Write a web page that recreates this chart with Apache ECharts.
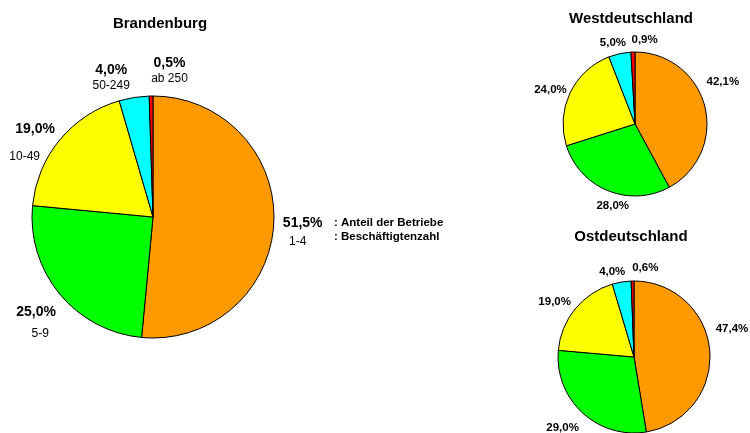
<!DOCTYPE html>
<html><head><meta charset="utf-8">
<script src="https://cdn.jsdelivr.net/npm/echarts@6/dist/echarts.min.js"></script>
<style>html,body{margin:0;padding:0;background:#fff}#c{width:750px;height:433px}</style>
</head><body><div id="c"></div>
<script>
const categories = ['1-4', '5-9', '10-49', '50-249', 'ab 250'];
const brandenburg = [51.5, 25.0, 19.0, 4.0, 0.5];
const west = [42.1, 28.0, 24.0, 5.0, 0.9];
const ost = [47.4, 29.0, 19.0, 4.0, 0.6];
const colors = ['#FF9900', '#00FF00', '#FFFF00', '#00FFFF', '#FF0000'];
const titles = ['Brandenburg', 'Westdeutschland', 'Ostdeutschland'];
const legendText = [': Anteil der Betriebe', ': Beschäftigtenzahl'];

// label nudges (dx, dy) relative to the library's outside label position
const nudge = [
  [[-10, 9], [12, 20], [11, 12], [3, -6], [42, -11]],
  [[-11, -23], [29, 8], [9, 0], [13, -3], [30, -4]],
  [[-7, -21], [7, 9], [7, -2], [10, -2], [31, -5]]
];
const lineGap = [18, 22, 27, 16, 16];
// horizontal shift of the second label line within a block: [padB, padN-left, padN-right]
const pads = [[0, 0, 10], [0, 8, 0], [6, 0, 0], [0, 0, 0], [0, 0, 0]];

const FONT = 'Liberation Sans, Arial, sans-serif';
const fmt = v => v.toFixed(1).replace('.', ',') + '%';

function mkBig(vals) {
  return vals.map((v, i) => ({
    value: v, name: categories[i], itemStyle: { color: colors[i] },
    label: {
      rich: {
        b: { fontFamily: FONT, fontSize: 14, fontWeight: 'bold', color: '#000', align: 'center', lineHeight: lineGap[i], padding: [0, 0, 0, pads[i][0]] },
        n: { fontFamily: FONT, fontSize: 12, color: '#000', align: i === 2 ? 'left' : 'center', lineHeight: lineGap[i], padding: [0, pads[i][2], 0, pads[i][1]] }
      }
    }
  }));
}
const mk = vals => vals.map((v, i) => ({ value: v, name: categories[i], itemStyle: { color: colors[i] } }));

const chart = echarts.init(document.getElementById('c'), null, { renderer: 'canvas' });
const base = {
  type: 'pie', clockwise: true, startAngle: 90, animation: false,
  itemStyle: { borderColor: '#000', borderWidth: 1 },
  emphasis: { disabled: true },
  avoidLabelOverlap: false,
  minShowLabelAngle: 0
};
const layoutFn = si => p => ({
  dx: nudge[si][p.dataIndex][0], dy: nudge[si][p.dataIndex][1], hideOverlap: false
});
const titleStyle = { fontFamily: FONT, fontSize: 15, fontWeight: 'bold', color: '#000' };
chart.setOption({
  backgroundColor: '#fff',
  textStyle: { fontFamily: FONT },
  title: [
    { text: titles[0], left: 155, top: 11, textAlign: 'center', textStyle: titleStyle },
    { text: titles[1], left: 626, top: 6, textAlign: 'center', textStyle: titleStyle },
    { text: titles[2], left: 626, top: 224, textAlign: 'center', textStyle: titleStyle }
  ],
  graphic: [
    { type: 'text', left: 334, top: 217, style: { text: legendText[0], font: 'bold 11.5px ' + FONT, fill: '#000' } },
    { type: 'text', left: 334, top: 231, style: { text: legendText[1], font: 'bold 11.5px ' + FONT, fill: '#000' } }
  ],
  series: [
    Object.assign({}, base, {
      center: [153, 217], radius: 121, data: mkBig(brandenburg),
      label: {
        show: true, position: 'outside',
        formatter: p => '{b|' + fmt(p.value) + '}\n{n|' + p.name + '}'
      },
      labelLine: { show: false, length: 14, length2: 0 },
      labelLayout: layoutFn(0)
    }),
    Object.assign({}, base, {
      center: [635, 124], radius: 72, data: mk(west),
      label: { show: true, position: 'outside', formatter: p => fmt(p.value), fontFamily: FONT, fontSize: 11.5, fontWeight: 'bold', color: '#000' },
      labelLine: { show: false, length: 8, length2: 0 },
      labelLayout: layoutFn(1)
    }),
    Object.assign({}, base, {
      center: [634, 357], radius: 76, data: mk(ost),
      label: { show: true, position: 'outside', formatter: p => fmt(p.value), fontFamily: FONT, fontSize: 11.5, fontWeight: 'bold', color: '#000' },
      labelLine: { show: false, length: 8, length2: 0 },
      labelLayout: layoutFn(2)
    })
  ]
});
</script></body></html>
